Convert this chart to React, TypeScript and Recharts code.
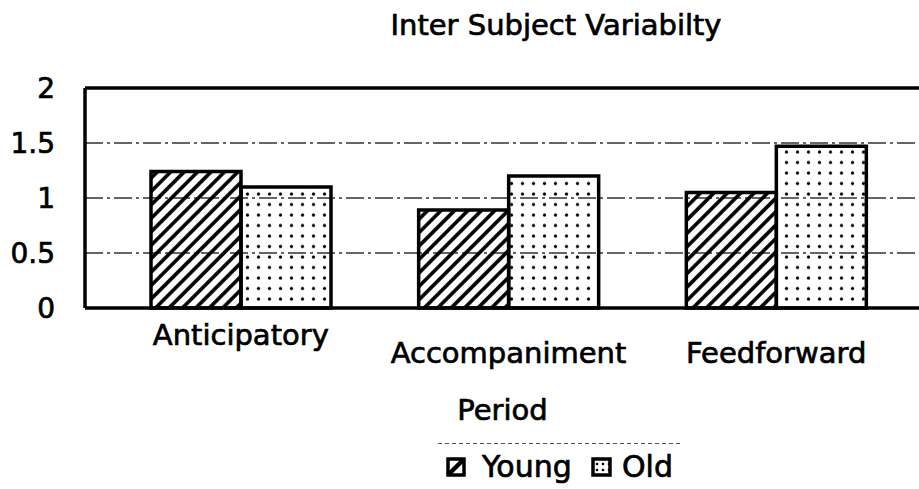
import React from 'react';
import {
  BarChart,
  Bar,
  XAxis,
  YAxis,
  CartesianGrid,
  ReferenceLine,
  Legend,
} from 'recharts';

const categories = ['Anticipatory', 'Accompaniment', 'Feedforward'];
const young = [1.24, 0.89, 1.05];
const old = [1.1, 1.2, 1.47];
const yTicks = [0, 0.5, 1, 1.5, 2];

const data = categories.map((period, i) => ({ period, young: young[i], old: old[i] }));

const FONT = 'DejaVu Sans';
// the scanned original has heavy type, a thin outline thickens the glyphs a bit
const INK = { fill: '#000', stroke: '#000', strokeWidth: 0.7 };

const PeriodTick = (props: any) => {
  const { x, y, payload, index } = props;
  // Excel staggered the labels: the first sits higher than the others
  const dy = index === 0 ? 37 : 55;
  return (
    <text x={x} y={y + dy} textAnchor="middle" fontSize={29} fontFamily={FONT} {...INK}>
      {payload.value}
    </text>
  );
};

const LegendBox = () => (
  <svg width={242} height={45} style={{ display: 'block' }}>
    <defs>
      <pattern id="lgDots" patternUnits="userSpaceOnUse" width={6} height={6}>
        <circle cx={3} cy={3} r={1.3} fill="#000" />
      </pattern>
    </defs>
    <line x1={0} y1={0.5} x2={242} y2={0.5} stroke="#555" strokeDasharray="4 3" />
    <rect x={10} y={16} width={16} height={16} fill="#fff" stroke="#000" strokeWidth={3.5} />
    <line x1={11} y1={31} x2={25} y2={17} stroke="#000" strokeWidth={4.5} />
    <text x={44} y={34} fontSize={30} fontFamily={FONT} {...INK}>Young</text>
    <rect x={155} y={16} width={17} height={16} fill="url(#lgDots)" stroke="#000" strokeWidth={3.5} />
    <text x={184} y={34} fontSize={30} fontFamily={FONT} {...INK}>Old</text>
  </svg>
);

export default function App() {
  return (
    <div
      style={{
        position: 'absolute',
        left: 0,
        top: 0,
        width: 919,
        height: 489,
        overflow: 'hidden',
        background: '#fff',
      }}
    >
      <BarChart
        width={940}
        height={489}
        data={data}
        barGap={0}
        margin={{ top: 88, right: 0, left: 0, bottom: 61 }}
      >
        <defs>
          <pattern
            id="hatch"
            patternUnits="userSpaceOnUse"
            width={9.5}
            height={9.5}
            patternTransform="rotate(45)"
          >
            <line x1={4.75} y1={0} x2={4.75} y2={9.5} stroke="#000" strokeWidth={3.6} />
          </pattern>
          <pattern id="dots" patternUnits="userSpaceOnUse" width={11} height={10.5}>
            <circle cx={5.5} cy={5} r={1.6} fill="#000" />
          </pattern>
        </defs>
        <CartesianGrid vertical={false} stroke="#333" strokeWidth={1.3} strokeDasharray="18 4 3 4" />
        <XAxis
          dataKey="period"
          height={120}
          padding={{ left: 22, right: 30 }}
          tickSize={0}
          tickMargin={0}
          tickLine={false}
          axisLine={{ stroke: '#000', strokeWidth: 3.5 }}
          tick={<PeriodTick />}
          interval={0}
          label={{
            value: 'Period',
            position: 'insideBottom',
            offset: 8,
            dx: -10,
            fontSize: 29,
            fontFamily: FONT,
            ...INK,
          }}
        />
        <YAxis
          width={85}
          domain={[0, 2]}
          ticks={yTicks}
          tickSize={0}
          tickMargin={30}
          tickLine={false}
          axisLine={{ stroke: '#000', strokeWidth: 3.5 }}
          tick={{ fontSize: 28, fontFamily: FONT, ...INK }}
        />
        <ReferenceLine y={2} stroke="#000" strokeWidth={3.5} />
        <Bar
          dataKey="young"
          name="Young"
          fill="url(#hatch)"
          stroke="#000"
          strokeWidth={3.5}
          barSize={90}
          isAnimationActive={false}
        />
        <Bar
          dataKey="old"
          name="Old"
          fill="url(#dots)"
          stroke="#000"
          strokeWidth={3.5}
          barSize={90}
          isAnimationActive={false}
        />
        <Legend
          layout="horizontal"
          align="center"
          verticalAlign="middle"
          content={<LegendBox />}
          wrapperStyle={{ position: 'absolute', left: 438, top: 443, width: 242 }}
        />
      </BarChart>
      <svg
        width={919}
        height={489}
        style={{ position: 'absolute', left: 0, top: 0, pointerEvents: 'none' }}
      >
        <text x={556} y={35} textAnchor="middle" fontSize={29} fontFamily={FONT} {...INK}>
          Inter Subject Variabilty
        </text>
      </svg>
    </div>
  );
}
